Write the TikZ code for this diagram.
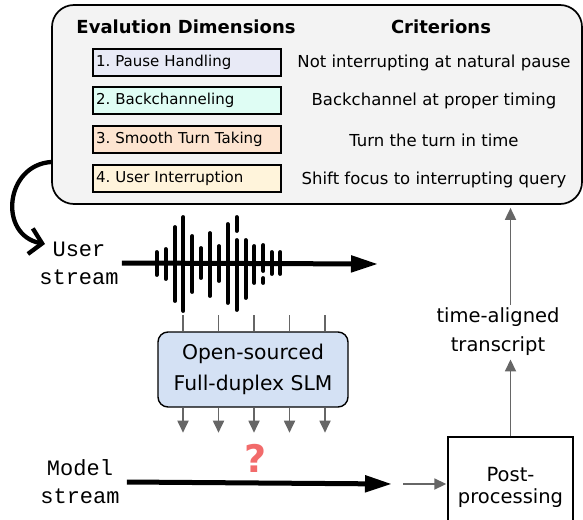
\documentclass[tikz,border=0pt]{standalone}
\usepackage{fontspec}
\setmainfont{DejaVu Sans}
\setmonofont{Liberation Mono}
\usetikzlibrary{arrows.meta,positioning}
\definecolor{panelgray}{HTML}{F3F3F3}
\definecolor{dimone}{HTML}{E8EAF6}
\definecolor{dimtwo}{HTML}{DFFDF4}
\definecolor{dimthree}{HTML}{FDE4D0}
\definecolor{dimfour}{HTML}{FFF4DB}
\definecolor{slmblue}{HTML}{D4E1F4}
\definecolor{arrowgray}{HTML}{666666}
\definecolor{qred}{HTML}{F26B6B}
\newcommand\fsz[2]{\fontsize{#1}{#2}\selectfont}
\frenchspacing

\begin{document}
\begin{tikzpicture}[x=1pt, y=-1pt,
    dimbox/.style={rectangle, draw, line width=1.4pt, minimum width=188pt, minimum height=27pt, text width=182pt, align=left, inner sep=3pt, font=\fsz{15}{18}},
    crit/.style={font=\fsz{16.5}{20}},
    grayarrow/.style={draw=arrowgray, line width=1.8pt, -{Triangle[length=12pt,width=11pt]}},
    stream/.style={line width=5pt, -{Triangle[length=27pt,width=16pt]}},
    bar/.style={line width=3.8pt, line cap=round}]
    \useasboundingbox (0,0) rectangle (583,519);

    %evaluation panel
    \node at (317, 104.5) [rectangle, rounded corners=22pt, draw, line width=1.7pt, fill=panelgray, minimum width=530pt, minimum height=199pt] (panel) {};
    \node at (186, 27) [font=\bfseries\fsz{18}{20}] (hdim) {Evalution Dimensions};
    \node at (441, 27) [font=\bfseries\fsz{18}{20}] (hcrit) {Criterions};

    \node at (187, 62.5) [dimbox, fill=dimone] (d1) {1. Pause Handling};
    \node at (187, 100.5) [dimbox, fill=dimtwo] (d2) {2. Backchanneling};
    \node at (187, 139.5) [dimbox, fill=dimthree] (d3) {3. Smooth Turn Taking};
    \node at (187, 178.5) [dimbox, fill=dimfour] (d4) {4. User Interruption};

    \node at (434, 63) [crit] (c1) {Not interrupting at natural pause};
    \node at (434, 101) [crit] (c2) {Backchannel at proper timing};
    \node at (434, 140) [crit] (c3) {Turn the turn in time};
    \node at (434, 180) [crit] (c4) {Shift focus to interrupting query};

    %streams
    \node at (79, 263) [align=center, font=\ttfamily\fsz{22}{28}, inner sep=2pt] (user) {User\\stream};
    \node at (80, 482) [align=center, font=\ttfamily\fsz{22}{28}, inner sep=2pt] (model) {Model\\stream};
    \coordinate (userend) at (378, 264);
    \coordinate (modelend) at (392, 484);
    \coordinate (gapstart) at (403, 484);
    \coordinate (hook) at (45, 244);

    \draw [line width=4.3pt, -{Straight Barb[length=12pt,width=26pt]}] ([yshift=-57.5pt]panel.west) .. controls (5, 165) and (-2, 235) .. (hook);

    %waveform
    \foreach \x/\t/\b in {156.7/252/275, 165.7/249/279, 175/227/301, 183.3/217/311, 192.3/236/292,
        201/248/278, 210/233/296, 219/246/281, 227.7/224/303, 236.7/217/231, 236.7/240/310,
        245.7/240/298, 254.3/246/283, 263.3/245/271, 263.3/278/283, 271.7/252/274, 280.3/252/274}
        \draw [bar] (\x, \t) -- (\x, \b);
    \draw [stream] ([xshift=1pt]user.east) -- (userend);

    %model
    \node at (253, 369.5) [rectangle, rounded corners=10pt, draw, line width=1.4pt, fill=slmblue, minimum width=190pt, minimum height=75pt, align=center, font=\fsz{20.3}{31}] (slm) {Open-sourced\\Full-duplex SLM};
    \foreach \d in {-70, -34.5, 1, 36.5, 72} {
        \draw [arrowgray, line width=1.1pt] ([xshift=\d pt]slm.north) -- ++(0, -16);
        \draw [grayarrow] ([xshift=\d pt]slm.south) -- ++(0, 25);
    }
    \node at (256, 458) [font=\bfseries\fsz{38}{38}, text=qred] (qmark) {?};

    \draw [stream] ([xshift=5pt]model.east) -- (modelend);

    %post-processing
    \node at (510.5, 487) [rectangle, draw, line width=1.4pt, minimum width=125pt, minimum height=100pt, align=center, font=\fsz{19.5}{22}] (post) {Post-\\processing};
    \node at (498, 332) [align=center, font=\fsz{19.5}{29}] (trans) {time-aligned\\transcript};
    \draw [grayarrow] (post.north) -- (post.north |- trans.south);
    \draw [grayarrow, shorten >=3pt] (post.north |- trans.north) -- (post.north |- panel.south);
    \draw [grayarrow, shorten >=1pt] (gapstart) -- (post.west |- gapstart);
\end{tikzpicture}
\end{document}
